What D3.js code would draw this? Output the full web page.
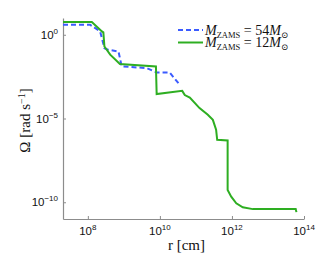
<!DOCTYPE html>
<html>
  <head>
    <script src="https://d3js.org/d3.v7.min.js"></script>
    <style>
      body { margin: 0; background: #fff; }
      .axis .domain { stroke: #8c8c8c; stroke-width: 1.2px; }
      .axis .tick line { stroke: #8c8c8c; }
      .tick-label { font-family: "Liberation Sans", Arial, sans-serif; font-size: 11.5px; fill: #111; }
      .axis-label { font-family: "Liberation Serif", "DejaVu Serif", serif; font-size: 15px; fill: #111; }
      .legend-text { font-family: "Liberation Serif", "DejaVu Serif", serif; font-size: 14px; fill: #111; }
    </style>
  </head>
  <body>
    <svg width="336" height="253"></svg>
    <script>
      // log10 r [cm] and log10 Omega [rad/s]
      const logR54 = [7.31, 8.06, 8.34, 8.46, 8.57, 8.85, 8.94, 9.63, 9.91, 10.27, 10.55];
      const logW54 = [0.6, 0.6, 0.2, -0.8, -0.9, -1.0, -1.89, -1.99, -2.25, -2.25, -2.99];

      const logR12 = [7.31, 8.11, 8.39, 8.43, 8.46, 8.62, 8.89, 9.89, 9.91, 10.62, 10.69,
                      10.83, 11.10, 11.33, 11.47, 11.56, 11.59, 11.88, 11.88, 11.98, 12.12,
                      12.30, 12.58, 13.77, 13.79];
      const logW12 = [0.76, 0.76, 0.2, 0.14, -0.7, -1.19, -1.75, -1.89, -3.54, -3.35, -3.6,
                      -3.75, -4.38, -4.78, -5.08, -5.67, -6.27, -6.31, -9.27, -9.67, -10.06,
                      -10.30, -10.41, -10.41, -10.59];

      const xTicks = [8, 10, 12, 14];
      const yTicks = [0, -5, -10];
      const xLabel = "r [cm]";
      const series = [
        {mass: "54", color: "#3b5bff", dash: "5,3", r: logR54, w: logW54},
        {mass: "12", color: "#2eae22", dash: null, r: logR12, w: logW12}
      ];

      const margin = {top: 18, right: 32, bottom: 34, left: 63};
      const svg = d3.select("svg");
      const width = +svg.attr("width");
      const height = +svg.attr("height");
      const innerWidth = width - margin.left - margin.right;
      const innerHeight = height - margin.top - margin.bottom;

      const xScale = d3.scaleLog().domain([Math.pow(10, 7.31), 1e14]).range([0, innerWidth]);
      const yScale = d3.scaleLog().domain([1e-11, 1e1]).range([innerHeight, 0]);

      const g = svg.append("g")
          .attr("transform", `translate(${margin.left}, ${margin.top})`);

      const xAxisG = g.append("g")
          .attr("class", "axis")
          .attr("transform", `translate(0, ${innerHeight})`)
          .call(d3.axisBottom(xScale)
            .tickValues(xTicks.map(e => Math.pow(10, e)))
            .tickSizeInner(-3).tickSizeOuter(0).tickFormat(""));
      const yAxisG = g.append("g")
          .attr("class", "axis")
          .call(d3.axisLeft(yScale)
            .tickValues(yTicks.map(e => Math.pow(10, e)))
            .tickSizeInner(-3).tickSizeOuter(0).tickFormat(""));

      // power-of-ten tick labels
      xTicks.forEach(e => {
        const t = g.append("text").attr("class", "tick-label")
          .attr("x", xScale(Math.pow(10, e)))
          .attr("y", innerHeight + 16)
          .attr("text-anchor", "middle");
        t.append("tspan").text("10");
        t.append("tspan").attr("dy", -5).attr("font-size", 8).text(e);
      });
      yTicks.forEach(e => {
        const t = g.append("text").attr("class", "tick-label")
          .attr("x", -5)
          .attr("y", yScale(Math.pow(10, e)) + 4)
          .attr("text-anchor", "end");
        t.append("tspan").text("10");
        t.append("tspan").attr("dy", -5).attr("font-size", 8)
          .text(e < 0 ? "\u2212" + (-e) : e);
      });

      g.append("text").attr("class", "axis-label")
        .attr("x", innerWidth / 2 + 3)
        .attr("y", innerHeight + 31)
        .attr("text-anchor", "middle")
        .text(xLabel);

      const yl = g.append("text").attr("class", "axis-label")
        .attr("transform", `translate(${-33}, ${innerHeight / 2 + 2}) rotate(-90)`)
        .attr("text-anchor", "middle");
      yl.append("tspan").text("\u03A9 [rad s");
      yl.append("tspan").attr("dy", -5).attr("font-size", 10).text("\u22121");
      yl.append("tspan").attr("dy", 5).text("]");

      const line = d3.line()
        .x(d => xScale(Math.pow(10, d[0])))
        .y(d => yScale(Math.pow(10, d[1])));

      series.forEach(s => {
        g.append("path")
          .datum(s.r.map((v, i) => [v, s.w[i]]))
          .attr("fill", "none")
          .attr("stroke", s.color)
          .attr("stroke-width", 2)
          .attr("stroke-dasharray", s.dash)
          .attr("d", line);
      });

      // legend
      const legend = g.append("g").attr("transform", `translate(${178 - margin.left}, ${30 - margin.top})`);
      series.forEach((s, i) => {
        const row = legend.append("g").attr("transform", `translate(0, ${i * 12.5})`);
        row.append("line")
          .attr("x1", 0).attr("x2", 25)
          .attr("stroke", s.color).attr("stroke-width", 2)
          .attr("stroke-dasharray", s.dash);
        const t = row.append("text").attr("class", "legend-text")
          .attr("x", 27).attr("y", 4.5);
        t.append("tspan").attr("font-style", "italic").text("M");
        t.append("tspan").attr("dy", 3).attr("font-size", 8.5).text("ZAMS");
        t.append("tspan").attr("dy", -3).text(" = " + s.mass);
        t.append("tspan").attr("font-style", "italic").text("M");
        t.append("tspan").attr("dy", 3).attr("font-size", 8.5).text("\u2299");
      });
    </script>
  </body>
</html>
